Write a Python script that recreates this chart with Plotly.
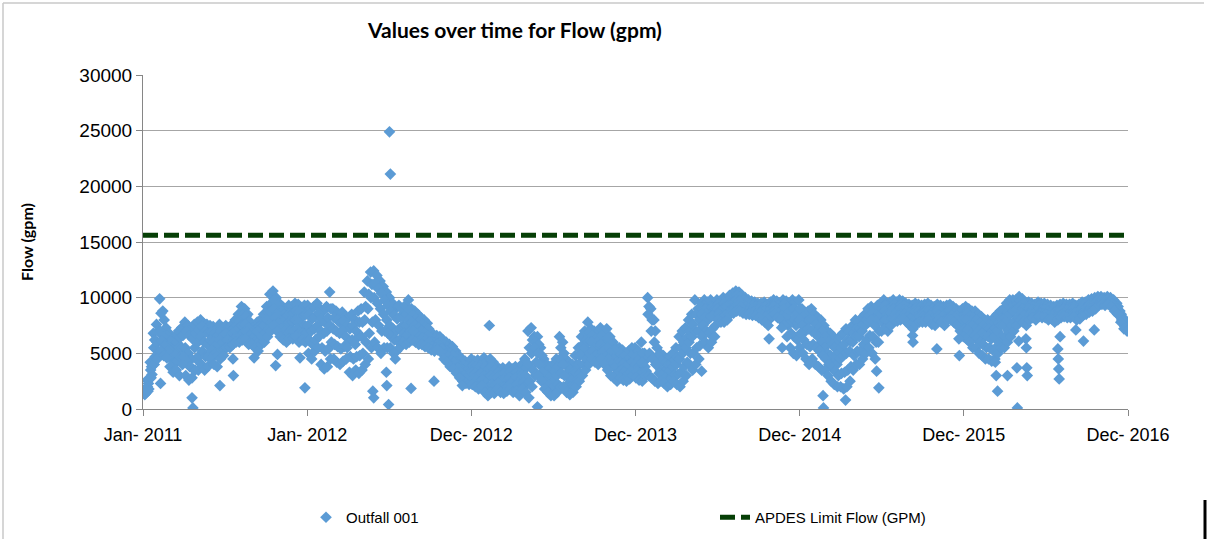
import pandas as pd
import plotly.graph_objects as go

# ---------------- data ----------------
tick_dates = ["2011-01-01", "2012-01-01", "2012-12-31", "2013-12-31", "2014-12-31", "2015-12-31", "2016-12-30"]
tick_labels = ["Jan- 2011", "Jan- 2012", "Dec- 2012", "Dec- 2013", "Dec- 2014", "Dec- 2015", "Dec- 2016"]

UNIT = 100  # weekly readings below are in hundreds of gpm
# five readings per week, from the top to the bottom of the weekly scatter band
start_2011 = "2011-01-03"
r1_2011 = [17, 26, 42, 68, 76, 99, 88, 73, 68, 62, 65, 70, 73, 78, 75, 72, 76, 78, 80, 77, 76, 75, 74, 72, 76, 73,
           75, 73, 76, 80, 85, 92, 90, 85, 77, 75, 78, 80, 85, 92, 103, 106, 100, 95, 92, 90, 93, 92, 95, 94, 90, 93]
r2_2011 = [16, 23, 38, 62, 70, 86, 80, 66, 61, 57, 60, 64, 66, 70, 66, 63, 68, 71, 74, 70, 68, 69, 68, 66, 70, 67,
           71, 69, 72, 75, 79, 84, 83, 79, 73, 71, 74, 76, 80, 87, 95, 98, 93, 88, 85, 83, 86, 86, 88, 87, 83, 85]
r3_2011 = [15, 20, 35, 55, 60, 70, 65, 58, 53, 48, 50, 55, 55, 55, 50, 45, 55, 60, 65, 60, 58, 62, 60, 58, 62, 60,
           68, 65, 68, 70, 72, 75, 76, 73, 68, 67, 70, 72, 75, 80, 87, 90, 85, 80, 78, 75, 78, 78, 80, 78, 75, 75]
r4_2011 = [14, 18, 31, 47, 52, 61, 57, 52, 45, 41, 43, 47, 47, 43, 38, 36, 45, 48, 52, 47, 48, 53, 50, 48, 53, 54,
           62, 60, 62, 65, 66, 68, 69, 66, 63, 61, 61, 65, 68, 72, 78, 82, 77, 72, 70, 67, 70, 70, 72, 69, 68, 68]
r5_2011 = [13, 16, 28, 40, 45, 52, 48, 46, 38, 33, 35, 30, 40, 30, 26, 28, 35, 35, 40, 35, 38, 45, 40, 38, 45, 48,
           55, 55, 58, 60, 60, 62, 63, 58, 58, 55, 52, 58, 60, 65, 70, 75, 70, 65, 62, 60, 63, 63, 65, 60, 62, 60]

start_2012 = "2012-01-02"
r1_2012 = [93, 90, 92, 95, 90, 88, 92, 105, 90, 88, 85, 87, 83, 82, 85, 80, 88, 90, 105, 115, 123, 124, 120, 115, 110, 105,
           100, 95, 90, 93, 90, 93, 98, 90, 88, 85, 82, 80, 77, 68, 67, 66, 65, 62, 60, 58, 56, 52, 48, 45, 43, 40]
r2_2012 = [85, 81, 83, 86, 81, 78, 82, 90, 82, 80, 77, 79, 75, 72, 75, 70, 78, 78, 92, 103, 112, 113, 108, 104, 98, 93,
           88, 84, 81, 83, 83, 85, 89, 84, 81, 79, 76, 74, 72, 64, 63, 62, 61, 58, 56, 54, 52, 47, 43, 40, 38, 36]
r3_2012 = [75, 70, 72, 75, 70, 68, 70, 75, 72, 70, 68, 70, 65, 60, 62, 58, 65, 65, 80, 90, 100, 100, 95, 90, 85, 80,
           75, 72, 70, 72, 75, 75, 80, 78, 75, 73, 70, 68, 66, 60, 59, 58, 57, 53, 52, 50, 48, 42, 38, 35, 33, 32]
r4_2012 = [62, 58, 62, 65, 55, 52, 54, 60, 58, 56, 54, 56, 55, 47, 45, 47, 48, 50, 60, 68, 78, 80, 75, 70, 70, 68,
           65, 62, 61, 63, 68, 66, 70, 70, 67, 65, 64, 62, 60, 56, 55, 55, 54, 49, 47, 44, 42, 37, 33, 30, 28, 27]
r5_2012 = [50, 45, 52, 55, 40, 36, 38, 45, 45, 42, 40, 43, 45, 33, 30, 35, 32, 35, 40, 45, 55, 60, 55, 50, 55, 55,
           55, 50, 52, 55, 60, 58, 60, 62, 60, 58, 58, 56, 55, 53, 52, 53, 51, 45, 42, 38, 36, 32, 28, 25, 23, 22]

start_2013 = "2012-12-31"
r1_2013 = [45, 43, 44, 40, 46, 43, 45, 42, 38, 36, 37, 35, 38, 36, 38, 37, 40, 45, 70, 73, 65, 65, 55, 45, 40, 38,
           40, 45, 65, 60, 45, 42, 40, 48, 55, 65, 70, 78, 72, 70, 68, 73, 68, 72, 65, 60, 55, 55, 53, 50, 52, 55]
r2_2013 = [39, 38, 37, 36, 38, 36, 38, 35, 33, 31, 32, 30, 33, 31, 33, 31, 35, 37, 55, 62, 60, 58, 48, 38, 35, 32,
           33, 38, 55, 50, 38, 35, 33, 40, 48, 58, 62, 69, 66, 63, 61, 66, 62, 64, 58, 53, 49, 49, 47, 44, 46, 49]
r3_2013 = [33, 32, 30, 32, 30, 28, 30, 28, 28, 25, 26, 25, 28, 26, 28, 25, 30, 30, 40, 50, 55, 50, 40, 30, 30, 25,
           25, 30, 45, 40, 30, 28, 26, 33, 40, 50, 55, 60, 60, 55, 53, 58, 55, 55, 50, 45, 42, 42, 40, 38, 40, 42]
r4_2013 = [27, 26, 24, 26, 23, 20, 22, 21, 23, 20, 20, 20, 23, 20, 22, 18, 24, 22, 25, 35, 42, 40, 33, 24, 22, 18,
           18, 22, 32, 30, 22, 20, 20, 26, 32, 40, 45, 50, 52, 48, 46, 51, 47, 45, 40, 37, 33, 35, 33, 31, 33, 36]
r5_2013 = [22, 20, 18, 21, 15, 12, 15, 14, 18, 15, 14, 16, 18, 15, 16, 12, 18, 15, 10, 20, 30, 30, 25, 18, 15, 12,
           12, 15, 20, 20, 15, 13, 15, 20, 25, 30, 35, 40, 45, 42, 40, 45, 40, 35, 30, 28, 25, 28, 26, 25, 27, 30]

start_2014 = "2013-12-30"
r1_2014 = [55, 52, 60, 50, 100, 90, 80, 55, 50, 48, 45, 47, 50, 55, 65, 70, 73, 80, 85, 98, 90, 95, 98, 96, 98, 95,
           98, 97, 100, 99, 102, 104, 106, 105, 102, 100, 98, 97, 96, 95, 95, 96, 94, 96, 98, 97, 95, 98, 97, 95, 98, 96]
r2_2014 = [47, 45, 50, 44, 92, 80, 70, 48, 43, 41, 39, 41, 44, 47, 55, 60, 64, 70, 76, 85, 80, 90, 90, 88, 91, 90,
           94, 93, 95, 95, 99, 100, 102, 101, 98, 96, 94, 93, 92, 92, 91, 92, 90, 93, 95, 93, 91, 94, 91, 88, 90, 86]
r3_2014 = [40, 38, 42, 38, 85, 70, 60, 40, 35, 33, 32, 35, 38, 40, 45, 50, 55, 60, 65, 70, 70, 85, 82, 80, 83, 85,
           90, 88, 90, 92, 95, 96, 98, 97, 93, 92, 90, 90, 89, 90, 88, 88, 86, 90, 92, 90, 88, 90, 85, 80, 80, 75]
r4_2014 = [34, 32, 33, 34, 50, 45, 40, 32, 30, 28, 26, 28, 31, 31, 33, 38, 42, 50, 50, 55, 57, 75, 70, 68, 72, 75,
           85, 83, 84, 86, 90, 91, 93, 92, 89, 88, 87, 87, 86, 86, 84, 83, 80, 87, 88, 86, 84, 82, 75, 68, 65, 62]
r5_2014 = [28, 26, 25, 30, 30, 28, 25, 23, 25, 23, 20, 22, 25, 22, 20, 25, 30, 40, 35, 40, 45, 65, 60, 55, 60, 65,
           80, 78, 78, 80, 85, 86, 88, 88, 86, 85, 85, 84, 84, 82, 80, 78, 75, 83, 85, 82, 80, 75, 65, 55, 50, 48]

start_2015 = "2014-12-29"
r1_2015 = [98, 90, 85, 88, 90, 85, 82, 80, 75, 70, 68, 65, 60, 65, 68, 72, 70, 75, 80, 78, 82, 85, 90, 92, 90, 93,
           95, 98, 95, 96, 98, 96, 98, 97, 95, 94, 93, 95, 94, 93, 94, 95, 93, 92, 94, 93, 92, 93, 94, 92, 90, 88]
r2_2015 = [90, 83, 78, 80, 80, 76, 73, 70, 65, 60, 58, 55, 50, 55, 58, 62, 61, 68, 72, 72, 76, 80, 84, 86, 82, 87,
           90, 93, 90, 91, 94, 92, 94, 93, 91, 90, 89, 91, 91, 90, 91, 92, 90, 89, 91, 90, 89, 90, 91, 89, 87, 84]
r3_2015 = [80, 75, 70, 72, 70, 68, 65, 60, 55, 50, 48, 45, 40, 45, 48, 50, 52, 60, 65, 65, 70, 75, 78, 80, 75, 80,
           85, 88, 85, 86, 90, 88, 90, 89, 88, 86, 85, 87, 88, 87, 88, 88, 86, 86, 88, 87, 85, 87, 88, 86, 84, 80]
r4_2015 = [68, 62, 58, 56, 58, 55, 52, 48, 45, 40, 37, 34, 30, 32, 33, 35, 38, 48, 52, 52, 58, 62, 66, 65, 60, 70,
           78, 80, 78, 81, 85, 84, 85, 85, 83, 81, 79, 82, 83, 83, 83, 84, 81, 81, 84, 83, 80, 83, 84, 82, 80, 75]
r5_2015 = [55, 50, 45, 40, 45, 40, 38, 35, 35, 30, 25, 22, 20, 20, 18, 20, 25, 35, 40, 40, 45, 50, 55, 50, 45, 60,
           70, 72, 70, 75, 80, 79, 80, 81, 78, 75, 72, 76, 78, 78, 78, 80, 76, 75, 80, 78, 75, 80, 80, 78, 75, 70]

start_2016 = "2015-12-28"
r1_2016 = [90, 92, 90, 88, 88, 85, 83, 80, 80, 78, 82, 85, 88, 90, 95, 98, 98, 98, 101, 99, 95, 96, 95, 94, 96, 95,
           95, 94, 93, 92, 93, 94, 95, 94, 94, 95, 93, 94, 96, 96, 98, 99, 100, 101, 101, 100, 101, 100, 98, 95, 88, 82, 75]
r2_2016 = [85, 86, 83, 82, 80, 77, 75, 72, 72, 70, 73, 77, 81, 82, 87, 91, 93, 94, 97, 95, 92, 93, 92, 91, 93, 92,
           92, 91, 90, 89, 90, 91, 92, 91, 91, 92, 90, 91, 93, 93, 95, 96, 97, 99, 99, 98, 99, 98, 95, 92, 85, 80, 74]
r3_2016 = [80, 80, 75, 75, 72, 70, 68, 65, 65, 63, 65, 70, 75, 75, 80, 85, 88, 90, 92, 90, 88, 90, 89, 88, 90, 89,
           89, 88, 87, 86, 88, 89, 90, 89, 89, 90, 88, 89, 91, 91, 93, 94, 95, 98, 98, 97, 98, 96, 93, 90, 83, 77, 72]
r4_2016 = [72, 71, 67, 65, 63, 60, 58, 55, 55, 53, 55, 60, 65, 65, 70, 75, 79, 82, 86, 84, 81, 85, 85, 84, 86, 85,
           85, 84, 84, 82, 84, 85, 86, 85, 85, 86, 84, 85, 87, 88, 90, 91, 92, 95, 96, 95, 96, 94, 90, 87, 80, 74, 71]
r5_2016 = [65, 63, 60, 55, 55, 50, 48, 45, 45, 43, 45, 50, 55, 55, 60, 65, 70, 75, 80, 78, 75, 80, 82, 80, 83, 82,
           82, 80, 81, 78, 80, 82, 83, 82, 82, 83, 80, 81, 84, 85, 87, 88, 90, 93, 94, 93, 94, 92, 88, 85, 78, 72, 70]

# isolated readings away from the band (gpm)
outlier_dates = ["2011-02-09", "2011-04-20", "2011-04-22", "2011-06-21", "2011-07-20", "2011-07-21",
                 "2011-09-05", "2011-10-23", "2011-10-27", "2011-12-16", "2011-12-27",
                 "2012-05-26", "2012-05-28", "2012-06-25", "2012-06-26", "2012-06-30", "2012-07-02",
                 "2012-07-04", "2012-07-15", "2012-08-19", "2012-10-09", "2012-12-11",
                 "2013-02-09", "2013-05-27", "2014-05-27", "2014-10-24", "2014-11-21", "2014-11-22",
                 "2015-02-21", "2015-02-22", "2015-04-12", "2015-06-20", "2015-06-25",
                 "2015-09-08", "2015-09-09", "2015-11-01", "2015-12-20", "2015-12-21",
                 "2016-03-10", "2016-03-12", "2016-03-15", "2016-04-06", "2016-04-27", "2016-04-28",
                 "2016-05-01", "2016-05-17", "2016-05-18", "2016-05-19", "2016-05-20",
                 "2016-07-27", "2016-07-28", "2016-07-29", "2016-07-30", "2016-08-01",
                 "2016-09-05", "2016-09-22", "2016-10-16"]
outlier_flow = [2300, 1000, 100, 2100, 4500, 3000,
                4600, 3900, 4900, 4600, 1900,
                1600, 1000, 3300, 2100, 400, 24900,
                21100, 4500, 1850, 2500, 2100,
                7500, 200, 3400, 6300, 7300, 5500,
                1200, 100, 800, 3400, 1900,
                6600, 6000, 5400, 6300, 4800,
                4200, 3000, 1600, 3000, 3700, 100,
                6100, 6300, 5500, 3700, 3000,
                5400, 4500, 3600, 2700, 6500,
                7100, 6100, 7100]

limit_flow = 15600  # APDES limit, gpm
limit_dates = ["2011-01-01", "2016-12-26"]

# ---------------- assemble ----------------
blocks = [(start_2011, [r1_2011, r2_2011, r3_2011, r4_2011, r5_2011]),
          (start_2012, [r1_2012, r2_2012, r3_2012, r4_2012, r5_2012]),
          (start_2013, [r1_2013, r2_2013, r3_2013, r4_2013, r5_2013]),
          (start_2014, [r1_2014, r2_2014, r3_2014, r4_2014, r5_2014]),
          (start_2015, [r1_2015, r2_2015, r3_2015, r4_2015, r5_2015]),
          (start_2016, [r1_2016, r2_2016, r3_2016, r4_2016, r5_2016])]
row_day = [0, 3, 1, 4, 2]  # weekday of each reading within its week
xs, ys = [], []
for start, rows in blocks:
    for k, row in enumerate(rows):
        d = pd.date_range(pd.Timestamp(start) + pd.Timedelta(days=row_day[k]), periods=len(row), freq="7D")
        xs.extend(list(d))
        ys.extend([v * UNIT for v in row])
xs.extend(list(pd.to_datetime(outlier_dates)))
ys.extend(outlier_flow)

# ---------------- figure ----------------
W, H = 1209, 539
L, R, T, B = 143, 81, 75, 130
pw, ph = W - L - R, H - T - B


def px_x(p):
    return (p - L) / pw


def px_y(p):
    return (H - B - p) / ph


fig = go.Figure()
fig.add_trace(go.Scatter(
    x=xs, y=ys, mode="markers", name="Outfall 001",
    marker=dict(symbol="diamond", size=9, color="#5b9bd5", line=dict(width=0)),
))
fig.add_trace(go.Scatter(
    x=limit_dates, y=[limit_flow, limit_flow], mode="lines", name="APDES Limit Flow (GPM)",
    line=dict(color="#063f06", width=5, dash="15px,6px"),
))

xfont = dict(family="Liberation Sans, Arial, sans-serif", size=18, color="#000000")
yfont = dict(family="Liberation Sans, Arial, sans-serif", size=19, color="#000000")
fig.update_layout(
    width=W, height=H,
    margin=dict(l=L, r=R, t=T, b=B, autoexpand=False),
    paper_bgcolor="white", plot_bgcolor="white",
    title=dict(text="<b>Values over time for Flow (gpm)</b>", xref="container", x=515 / W,
               xanchor="center", yref="container", y=1 - 31 / H, yanchor="middle",
               font=dict(family="Lato, Calibri, sans-serif", size=21, color="#000000")),
    showlegend=True,
    legend=dict(orientation="h", x=px_x(306), xanchor="left",
                y=px_y(501), yanchor="top",
                entrywidth=364, entrywidthmode="pixels",
                font=dict(family="Liberation Sans, Arial, sans-serif", size=15, color="#000000"),
                bgcolor="rgba(0,0,0,0)"),
    xaxis=dict(type="date", range=[tick_dates[0], tick_dates[-1]],
               tickvals=tick_dates, ticktext=tick_labels, tickfont=xfont,
               showgrid=False, showline=True, linecolor="#868686", linewidth=1,
               ticks="outside", ticklen=6, tickcolor="#868686", zeroline=False,
               ticklabelstandoff=3),
    yaxis=dict(range=[0, 30000], dtick=5000, tickformat="d", tickfont=yfont,
               showgrid=True, gridcolor="#a6a6a6", gridwidth=1,
               showline=True, linecolor="#868686", linewidth=1,
               ticks="outside", ticklen=6, tickcolor="#868686", zeroline=False,
               title=dict(text="<b>Flow (gpm)</b>", standoff=41,
                          font=dict(family="Lato, Calibri, sans-serif", size=16, color="#000000"))),
    shapes=[
        dict(type="line", xref="paper", yref="paper", x0=px_x(3), x1=px_x(3),
             y0=px_y(3), y1=px_y(H + 5), line=dict(color="#c8c8c8", width=1.5)),
        dict(type="line", xref="paper", yref="paper", x0=px_x(3), x1=px_x(1204),
             y0=px_y(3), y1=px_y(3), line=dict(color="#c8c8c8", width=1.5)),
        dict(type="line", xref="paper", yref="paper", x0=px_x(1205), x1=px_x(1205),
             y0=px_y(500), y1=px_y(H + 5), line=dict(color="#000000", width=3)),
    ],
)

fig.write_html("out.html", config={"displayModeBar": False},
               post_script="document.body.style.margin='0';")
